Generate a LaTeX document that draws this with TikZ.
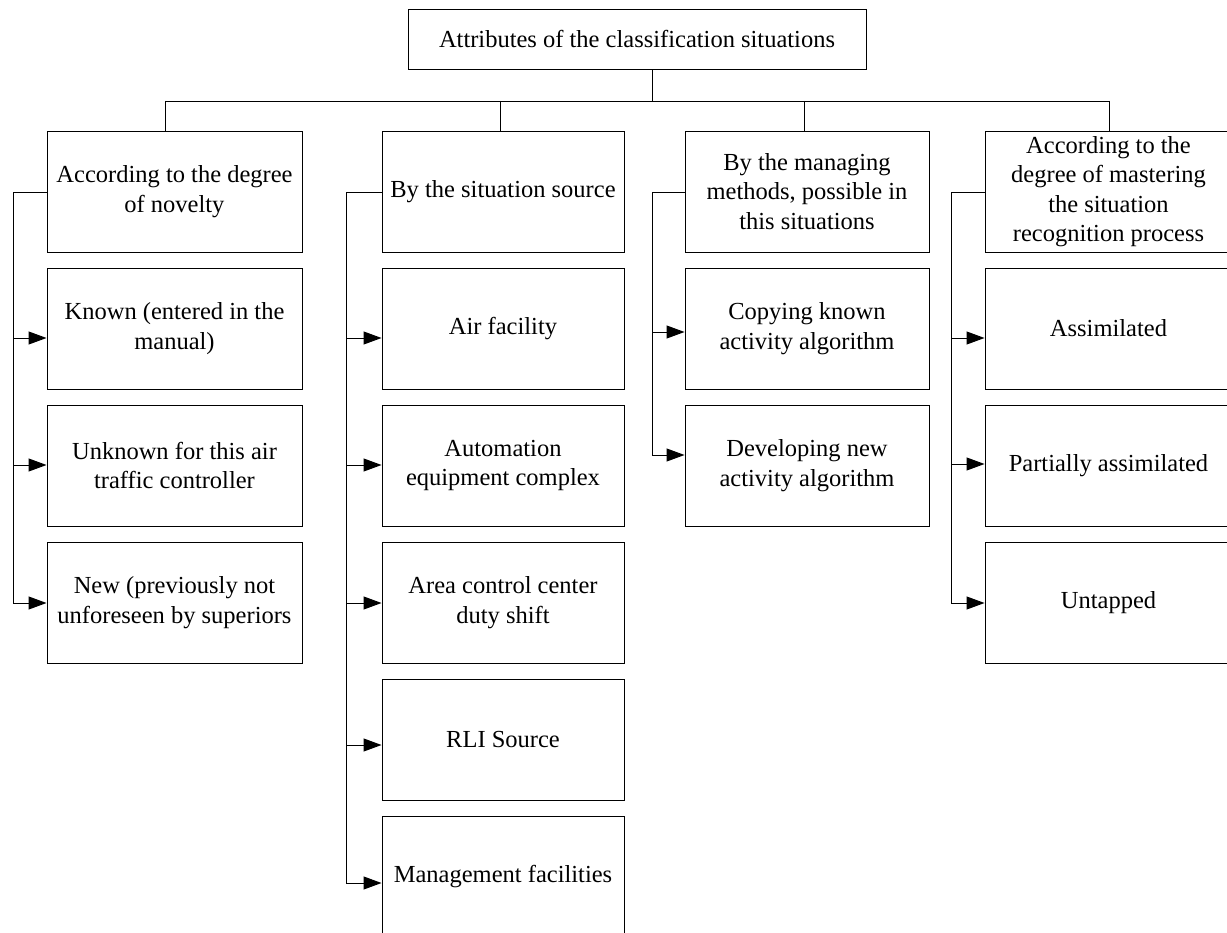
\documentclass[tikz,border=0pt]{standalone}
\usepackage{fontspec}
\setmainfont{Liberation Serif}
\usetikzlibrary{arrows.meta}
\begin{document}
\begin{tikzpicture}[x=1pt,y=-1pt,
  box/.style={draw,line width=0.95pt,minimum height=121pt,inner sep=1pt,align=center,
    font=\fontsize{24.5}{29.5}\selectfont},
  ln/.style={line width=0.95pt},
  arr/.style={line width=0.95pt,-{Triangle[length=18pt,width=13pt]}}]
\useasboundingbox (0,0) rectangle (1227,933);
% top
\node[box,minimum width=458pt,minimum height=60pt] (top) at (637,39) {Attributes of the classification situations};
% headers
\node[box,minimum width=255pt] (c1) at (174.5,191.5) {According to the degree\\of novelty};
\node[box,minimum width=242pt] (c2) at (503,191.5) {By the situation source};
\node[box,minimum width=244pt] (c3) at (807,191.5) {By the managing\\methods, possible in\\this situations};
\node[box,minimum width=247pt] (c4) at (1108.5,191.5) {According to the\\degree of mastering\\the situation\\recognition process};
% column 1
\node[box,minimum width=255pt] (k11) at (174.5,328.5) {Known (entered in the\\manual)};
\node[box,minimum width=255pt] (k12) at (174.5,465.5) {Unknown for this air\\traffic controller};
\node[box,minimum width=255pt] (k13) at (174.5,602.5) {New (previously not\\unforeseen by superiors};
% column 2
\node[box,minimum width=242pt] (k21) at (503,328.5) {Air facility};
\node[box,minimum width=242pt] (k22) at (503,465.5) {Automation\\equipment complex};
\node[box,minimum width=242pt] (k23) at (503,602.5) {Area control center\\duty shift};
\node[box,minimum width=242pt] (k24) at (503,739.5) {RLI Source};
\node[box,minimum width=242pt] (k25) at (503,876.5) {Management facilities};
% column 3
\node[box,minimum width=244pt] (k31) at (807,328.5) {Copying known\\activity algorithm};
\node[box,minimum width=244pt] (k32) at (807,465.5) {Developing new\\activity algorithm};
% column 4
\node[box,minimum width=247pt] (k41) at (1108.5,328.5) {Assimilated};
\node[box,minimum width=247pt] (k42) at (1108.5,465.5) {Partially assimilated};
\node[box,minimum width=247pt] (k43) at (1108.5,602.5) {Untapped};
% tree
\coordinate (hub) at (652,101);
\coordinate (d1) at (165,101);
\coordinate (d2) at (500,101);
\coordinate (d3) at (804,101);
\coordinate (d4) at (1109,101);
\draw[ln] (hub |- top.south) -- (hub);
\draw[ln] (d1) -- (d4);
\draw[ln] (d1) -- (d1 |- c1.north);
\draw[ln] (d2) -- (d2 |- c2.north);
\draw[ln] (d3) -- (d3 |- c3.north);
\draw[ln] (d4) -- (d4 |- c4.north);
% brackets
\coordinate (e1) at (13,603);
\coordinate (e2) at (346,883);
\coordinate (e3) at (652,455);
\coordinate (e4) at (951,603);
\draw[ln] (c1.west |- 0,192) -| (e1);
\draw[ln] (c2.west |- 0,192) -| (e2);
\draw[ln] (c3.west |- 0,192) -| (e3);
\draw[ln] (c4.west |- 0,192) -| (e4);
% arrows
\draw[arr] (e1 |- 0,338) -- (k11.west |- 0,338);
\draw[arr] (e1 |- 0,465) -- (k12.west |- 0,465);
\draw[arr] (e1 |- 0,603) -- (k13.west |- 0,603);
\draw[arr] (e2 |- 0,338) -- (k21.west |- 0,338);
\draw[arr] (e2 |- 0,465) -- (k22.west |- 0,465);
\draw[arr] (e2 |- 0,603) -- (k23.west |- 0,603);
\draw[arr] (e2 |- 0,745) -- (k24.west |- 0,745);
\draw[arr] (e2 |- 0,883) -- (k25.west |- 0,883);
\draw[arr] (e3 |- 0,332) -- (k31.west |- 0,332);
\draw[arr] (e3 |- 0,455) -- (k32.west |- 0,455);
\draw[arr] (e4 |- 0,338) -- (k41.west |- 0,338);
\draw[arr] (e4 |- 0,464) -- (k42.west |- 0,464);
\draw[arr] (e4 |- 0,603) -- (k43.west |- 0,603);
\end{tikzpicture}
\end{document}
